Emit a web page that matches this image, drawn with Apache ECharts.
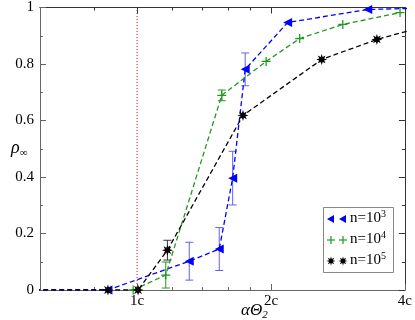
<!DOCTYPE html>
<html>
<head>
<meta charset="utf-8">
<script src="https://cdn.jsdelivr.net/npm/echarts@6/dist/echarts.min.js"></script>
<style>
  html, body { margin: 0; padding: 0; background: #fff; }
  #chart { width: 415px; height: 320px; }
</style>
</head>
<body>
<div id="chart"></div>
<script>
// x in units of c, plotted on a log2 scale
const blueX = [0.5, 0.86, 1.31, 1.53, 1.64, 1.75, 2.18, 3.30, 4.4]
const blueY = [0, 0, 0.102, 0.145, 0.396, 0.781, 0.947, 0.993, 0.998]
const blueErr = [0, 0, 0.067, 0.076, 0.095, 0.058, 0, 0, 0]

const greenX = [0.98, 1.16, 1.55, 1.95, 2.32, 2.90, 3.90]
const greenY = [0, 0.053, 0.689, 0.809, 0.890, 0.940, 0.982]
const greenErr = [0, 0.046, 0.019, 0, 0, 0, 0]

const blackX = [0.5, 0.86, 1.005, 1.17, 1.73, 2.60, 3.46, 4.6]
const blackY = [0, 0, 0, 0.141, 0.618, 0.816, 0.887, 0.94]
const blackErr = [0, 0, 0, 0.035, 0, 0, 0, 0]

const xMajor = [1, 2, 4]
const xMinor = [0.8, 1.2, 1.4, 1.6, 1.8]
const xRange = [0.605, 4]
const refLine = [[1, 0], [1, 1]]
const legendExp = ['3', '4', '5']

const FONT = 'Liberation Serif'
const BLUE = '#0000ff'
const GREEN = '#1f9a1f'
const BLACK = '#000000'

const lg = v => Math.log2(v)

// 8-point star outline centred on (cx, cy)
function starPoints(cx, cy, R, r) {
    const p = []
    for (let i = 0; i < 16; i++) {
        const a = i * Math.PI / 8
        const rr = i % 2 === 0 ? R : r
        p.push([cx + rr * Math.cos(a), cy + rr * Math.sin(a)])
    }
    return p
}
const star = 'path://' + starPoints(5, 5, 5, 2.4)
    .map((q, i) => (i === 0 ? 'M' : 'L') + q[0].toFixed(2) + ',' + q[1].toFixed(2)).join('') + 'Z'
const plus = 'path://M0,4.3H10V5.7H0Z M4.3,0H5.7V10H4.3Z'

const pts = (xs, ys) => xs.map((x, i) => [lg(x), ys[i]])
const errs = (xs, ys, es) => xs
    .map((x, i) => [lg(x), ys[i] - es[i], ys[i] + es[i]])
    .filter((d, i) => es[i] > 0)

function errSeries(data, color) {
    return {
        type: 'custom',
        silent: true,
        z: 1,
        data,
        renderItem: (params, api) => {
            const lo = api.coord([api.value(0), api.value(1)])
            const hi = api.coord([api.value(0), api.value(2)])
            const w = 4
            const st = { stroke: color, lineWidth: 1 }
            return {
                type: 'group',
                children: [
                    { type: 'line', shape: { x1: lo[0], y1: lo[1], x2: hi[0], y2: hi[1] }, style: st },
                    { type: 'line', shape: { x1: lo[0] - w, y1: lo[1], x2: lo[0] + w, y2: lo[1] }, style: st },
                    { type: 'line', shape: { x1: hi[0] - w, y1: hi[1], x2: hi[0] + w, y2: hi[1] }, style: st }
                ]
            }
        }
    }
}

function lineSeries(name, data, color, symbol, size, rotate) {
    return {
        name,
        type: 'line',
        data,
        z: 3,
        clip: true,
        symbol,
        symbolSize: size,
        symbolRotate: rotate || 0,
        showAllSymbol: true,
        itemStyle: { color },
        lineStyle: { color, width: 1.3, type: [5, 3] }
    }
}

function xAxisDef(pos, values, len, labels, lineColor) {
    return {
        type: 'value',
        position: pos,
        min: lg(xRange[0]),
        max: lg(xRange[1]),
        splitLine: { show: false },
        axisLine: { show: labels !== null || pos === 'top', onZero: false, lineStyle: { color: lineColor, width: 1 } },
        axisTick: { show: true, inside: true, length: len, customValues: values.map(lg), lineStyle: { color: lineColor } },
        axisLabel: labels ? {
            show: true,
            customValues: values.map(lg),
            formatter: v => Math.round(Math.pow(2, v)) + 'c',
            fontFamily: FONT, fontSize: 15, color: '#000', margin: 4
        } : { show: false }
    }
}

function yAxisDef(pos, labels, lineColor) {
    return {
        type: 'value',
        position: pos,
        min: 0,
        max: 1,
        interval: 0.2,
        splitLine: { show: false },
        axisLine: { show: true, onZero: false, lineStyle: { color: lineColor, width: 1 } },
        axisTick: { show: true, inside: true, length: 6, lineStyle: { color: lineColor } },
        minorTick: { show: true, splitNumber: 2, length: 3, lineStyle: { color: lineColor } },
        axisLabel: labels ? { fontFamily: FONT, fontSize: 15, color: '#000', margin: 6 } : { show: false }
    }
}

// legend box drawn by hand so that its size follows the original
function legendIcon(kind, cx, cy) {
    if (kind === 0) {
        return { type: 'polygon', shape: { points: [[cx - 4, cy], [cx + 3, cy - 4], [cx + 3, cy + 4]] }, style: { fill: BLUE } }
    }
    if (kind === 1) {
        return {
            type: 'group', children: [
                { type: 'rect', shape: { x: cx - 4, y: cy - 0.6, width: 8, height: 1.2 }, style: { fill: GREEN } },
                { type: 'rect', shape: { x: cx - 0.6, y: cy - 4, width: 1.2, height: 8 }, style: { fill: GREEN } }
            ]
        }
    }
    return { type: 'polygon', shape: { points: starPoints(cx, cy, 4.5, 2.1) }, style: { fill: BLACK } }
}

const legendBox = { type: 'group', z: 10, children: [
    { type: 'rect', shape: { x: 323.5, y: 207.5, width: 70, height: 65 }, style: { fill: '#fff', stroke: '#888', lineWidth: 1 } }
] }
legendExp.forEach((e, i) => {
    const cy = 219 + i * 21
    legendBox.children.push(legendIcon(i, 331, cy))
    legendBox.children.push(legendIcon(i, 343, cy))
    legendBox.children.push({
        type: 'text', x: 350, y: cy - 10,
        style: {
            text: 'n=10{s|' + e + '}',
            rich: {
                s: { fontFamily: FONT, fontSize: 10, fill: '#000', padding: [0, 0, 9, 0] }
            },
            fontFamily: FONT, fontSize: 15, fill: '#000'
        }
    })
})

const chart = echarts.init(document.getElementById('chart'), null, { renderer: 'canvas' })

const option = {
    animation: false,
    grid: { left: 40, right: 10, top: 7, bottom: 30 },
    xAxis: [
        xAxisDef('bottom', xMajor, 6, true, '#666'),
        xAxisDef('bottom', xMinor, 3, null, '#666'),
        xAxisDef('top', xMajor, 6, false, '#333'),
        xAxisDef('top', xMinor, 3, false, '#333')
    ],
    yAxis: [
        yAxisDef('left', true, '#666'),
        yAxisDef('right', false, '#333')
    ],
    graphic: [
        {
            type: 'text', left: 241, top: 302,
            style: {
                text: '{i|αΘ}{s|2}',
                rich: {
                    i: { fontFamily: FONT, fontStyle: 'italic', fontSize: 17, fill: '#000' },
                    s: { fontFamily: FONT, fontStyle: 'italic', fontSize: 11, fill: '#000', padding: [9, 0, 0, 0] }
                }
            }
        },
        {
            type: 'text', left: 11, top: 139,
            style: {
                text: '{i|ρ}{s|∞}',
                rich: {
                    i: { fontFamily: FONT, fontStyle: 'italic', fontSize: 18, fill: '#000' },
                    s: { fontFamily: FONT, fontSize: 11, fill: '#000', padding: [10, 0, 0, 0] }
                }
            }
        },
        legendBox
    ],
    series: [
        {
            type: 'line',
            silent: true,
            z: 0,
            data: refLine.map(p => [lg(p[0]), p[1]]),
            symbol: 'none',
            lineStyle: { color: '#ff0000', type: [1, 2], width: 1 }
        },
        errSeries(errs(blueX, blueY, blueErr), '#6060ff'),
        errSeries(errs(greenX, greenY, greenErr), GREEN),
        errSeries(errs(blackX, blackY, blackErr), '#333'),
        lineSeries('n=10^3', pts(blueX, blueY), BLUE, 'triangle', 9, 90),
        lineSeries('n=10^4', pts(greenX, greenY), GREEN, plus, 9),
        lineSeries('n=10^5', pts(blackX, blackY), BLACK, star, 11)
    ]
}

chart.setOption(option)
</script>
</body>
</html>
